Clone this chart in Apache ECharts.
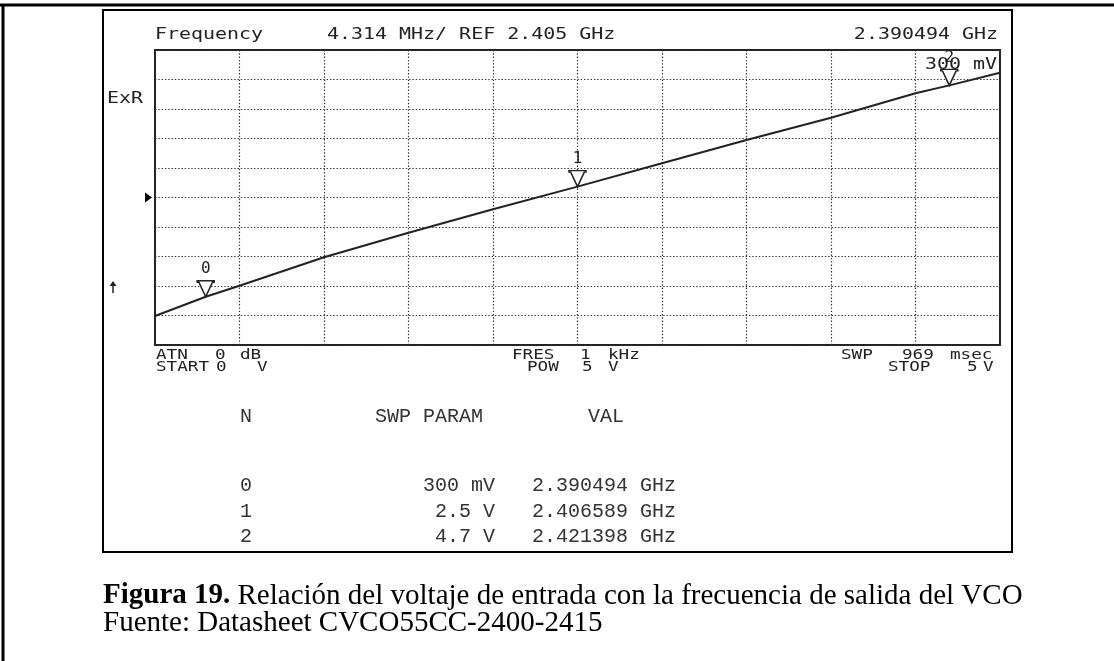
<!DOCTYPE html>
<html>
<head>
<meta charset="utf-8">
<script src="https://cdn.jsdelivr.net/npm/echarts@6/dist/echarts.min.js"></script>
<style>
  html, body { margin: 0; padding: 0; background: #fff; }
  #chart { width: 1114px; height: 661px; }
</style>
</head>
<body>
<div id="chart"></div>
<script>
// analyzer settings
const REF_MHZ = 2405;        // centre line
const MHZ_PER_DIV = 4.314;
const DIVS = 10;

// trace: sweep voltage (V) -> frequency (MHz)
const sweepVolts = [0, 0.3, 0.5, 1.0, 1.5, 2.0, 2.5, 3.0, 3.5, 4.0, 4.5, 4.7, 5.0];
const traceMHz = [2387.67, 2390.49, 2392.10, 2396.26, 2399.85, 2403.27, 2406.59, 2410.00, 2413.41, 2416.67, 2420.24, 2421.40, 2423.25];

// markers
const markerN = ['0', '1', '2'];
const markerVolts = [0.3, 2.5, 4.7];
const markerParam = ['300 mV', '2.5 V', '4.7 V'];
const markerGHz = [2.390494, 2.406589, 2.421398];

const chart = echarts.init(document.getElementById('chart'));

const SCREEN_FONT = '"DejaVu Sans Mono"';
const INK = '#222';

function screenText(txt, x, y, size, align, sx) {
    return {
        type: 'text', x: x, y: y, scaleX: sx || 1.33, z: 10,
        style: {
            text: txt, font: size + 'px ' + SCREEN_FONT, fill: INK,
            textAlign: align || 'left', align: align || 'left',
            textVerticalAlign: 'middle', verticalAlign: 'middle'
        }
    };
}

// bottom status lines are a bit narrower
function statusText(txt, x, y) {
    return screenText(txt, x, y, 14, 'left', 1.26);
}

function tableText(txt, x, y, align) {
    return {
        type: 'text', x: x, y: y, z: 10,
        style: {
            text: txt, font: '20px "Liberation Mono"', fill: '#333',
            textAlign: align || 'left', align: align || 'left',
            textVerticalAlign: 'middle', verticalAlign: 'middle'
        }
    };
}

const halfSpan = MHZ_PER_DIV * DIVS / 2;

const graphics = [
    // page frame
    { type: 'line', shape: { x1: 0, y1: 5, x2: 1114, y2: 5 }, style: { stroke: '#000', lineWidth: 3 } },
    { type: 'line', shape: { x1: 3, y1: 4, x2: 3, y2: 661 }, style: { stroke: '#000', lineWidth: 3 } },
    // screenshot box
    { type: 'rect', shape: { x: 103, y: 10, width: 909, height: 542 }, style: { fill: 'none', stroke: '#000', lineWidth: 2 } },

    screenText('Frequency', 155, 35, 15),
    screenText('4.314 MHz/ REF 2.405 GHz', 327, 35, 15),
    screenText('2.390494 GHz', 998, 35, 15, 'right'),
    screenText('300 mV', 997, 65, 15, 'right'),
    screenText('ExR', 107, 99, 15),

    // up arrow at left
    { type: 'polyline', shape: { points: [[113, 293], [113, 282]] }, style: { stroke: INK, lineWidth: 1.5 } },
    { type: 'polygon', shape: { points: [[109.5, 286], [113, 281], [116.5, 286]] }, style: { fill: INK } },

    // bottom annotations
    statusText('ATN', 156, 355),
    statusText('0', 215, 355),
    statusText('dB', 240, 355),
    statusText('FRES', 512, 355),
    statusText('1', 580, 355),
    statusText('kHz', 608, 355),
    statusText('SWP', 841, 355),
    statusText('969', 902, 355),
    statusText('msec', 950, 355),
    statusText('START', 156, 367),
    statusText('0', 216, 367),
    statusText('V', 257, 367),
    statusText('POW', 527, 367),
    statusText('5', 582, 367),
    statusText('V', 608, 367),
    statusText('STOP', 888, 367),
    statusText('5', 967, 367),
    statusText('V', 983, 367),

    // marker table
    tableText('N', 240, 417),
    tableText('SWP PARAM', 375, 417),
    tableText('VAL', 588, 417)
];

const rowY = [486, 512, 537];
markerN.forEach((n, i) => {
    graphics.push(tableText(n, 240, rowY[i]));
    graphics.push(tableText(markerParam[i], 495, rowY[i], 'right'));
    graphics.push(tableText(markerGHz[i].toFixed(6) + ' GHz', 532, rowY[i]));
});

// caption
graphics.push({
    type: 'text', x: 103, y: 596,
    style: {
        text: '{b|Figura 19.} Relación del voltaje de entrada con la frecuencia de salida del VCO',
        font: '29px "Liberation Serif"', fill: '#000',
        textVerticalAlign: 'middle', verticalAlign: 'middle',
        rich: { b: { fontWeight: 'bold', fontSize: 29, fontFamily: 'Liberation Serif', fill: '#000', color: '#000' } }
    }
});
graphics.push({
    type: 'text', x: 103, y: 623,
    style: {
        text: 'Fuente: Datasheet CVCO55CC-2400-2415',
        font: '29px "Liberation Serif"', fill: '#000',
        textVerticalAlign: 'middle', verticalAlign: 'middle'
    }
});

const dotted = { color: '#333', width: 1.2, type: [1.4, 1.9] };

chart.setOption({
    animation: false,
    backgroundColor: '#fff',
    grid: {
        left: 155, top: 50, width: 845, height: 295,
        show: true, borderColor: INK, borderWidth: 2, backgroundColor: 'transparent'
    },
    xAxis: {
        type: 'value', min: 0, max: 5, interval: 0.5,
        axisLine: { show: false }, axisTick: { show: false }, axisLabel: { show: false },
        splitLine: { show: true, lineStyle: dotted }
    },
    yAxis: {
        type: 'value', min: -halfSpan, max: halfSpan, interval: MHZ_PER_DIV,
        axisLine: { show: false }, axisTick: { show: false }, axisLabel: { show: false },
        splitLine: { show: true, lineStyle: dotted }
    },
    series: [
        {
            type: 'line',
            data: sweepVolts.map((v, i) => [v, traceMHz[i] - REF_MHZ]),
            symbol: 'none',
            lineStyle: { color: INK, width: 2 },
            z: 3
        },
        {
            type: 'scatter',
            data: markerVolts.map((v, i) => [v, markerGHz[i] * 1000 - REF_MHZ]),
            symbol: 'path://M0,0 L18,0 L18,1.5 L16.2,1.5 L9,16 L1.8,1.5 L0,1.5 Z',
            symbolSize: [17, 16],
            symbolOffset: [0, '-50%'],
            itemStyle: { color: '#fff', borderColor: INK, borderWidth: 1.5, opacity: 1 },
            label: {
                show: true, position: 'top', distance: 3,
                formatter: p => markerN[p.dataIndex],
                fontFamily: 'DejaVu Sans Mono', fontSize: 16, color: INK
            },
            z: 5
        }
    ],
    graphic: graphics
});

// REF level pointer at the left edge of the screen
const refY = chart.convertToPixel({ gridIndex: 0 }, [0, 0])[1];
chart.setOption({
    graphic: graphics.concat([{
        type: 'polygon',
        shape: { points: [[145, refY - 5], [152, refY], [145, refY + 5]] },
        style: { fill: '#000' }
    }])
});
</script>
</body>
</html>
